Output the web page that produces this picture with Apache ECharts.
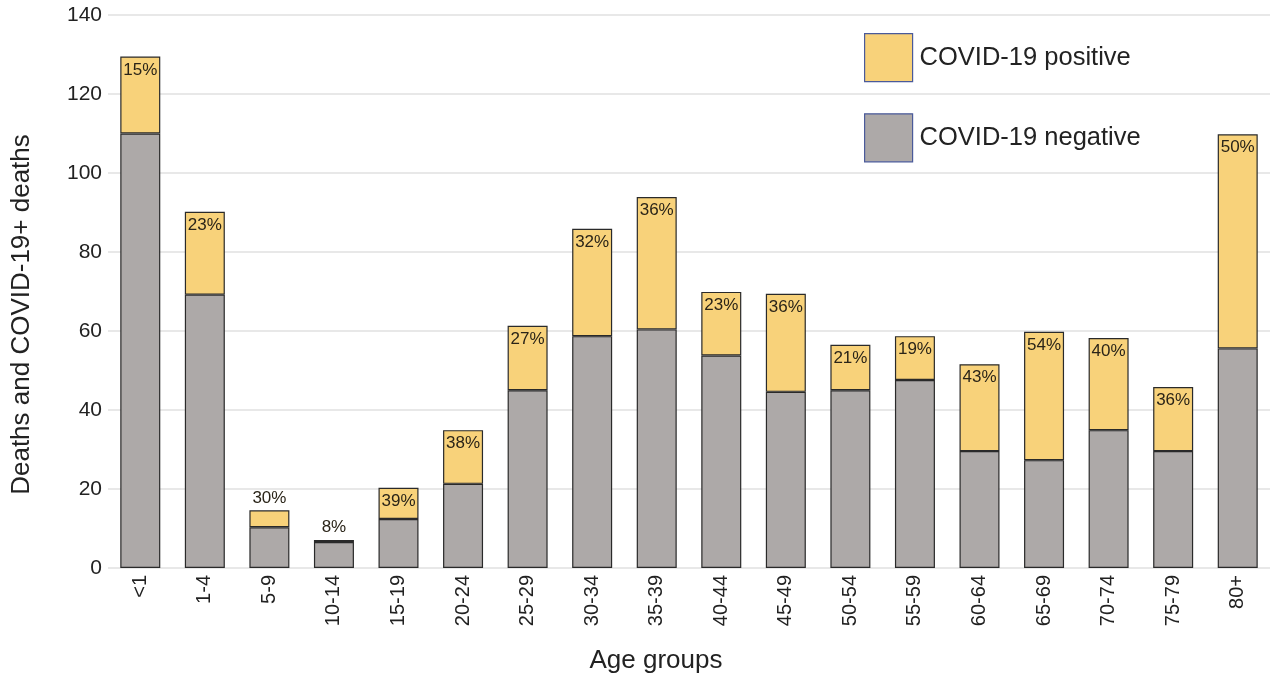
<!DOCTYPE html>
<html><head><meta charset="utf-8">
<script src="https://cdn.jsdelivr.net/npm/echarts@6/dist/echarts.min.js"></script>
<style>html,body{margin:0;padding:0;background:#fff}#c{width:1280px;height:680px}</style>
</head><body><div id="c"></div>
<script>
const categories = ['<1','1-4','5-9','10-14','15-19','20-24','25-29','30-34','35-39','40-44','45-49','50-54','55-59','60-64','65-69','70-74','75-79','80+'];
const negative = [110, 69.2, 10.3, 6.6, 12.4, 21.3, 45, 58.7, 60.4, 53.8, 44.6, 45, 47.6, 29.6, 27.3, 34.9, 29.6, 55.6];
const totals = [129.5, 90.2, 14.6, 7.1, 20.3, 34.9, 61.3, 85.9, 93.9, 69.9, 69.4, 56.5, 58.7, 51.6, 59.8, 58.2, 45.8, 109.8];
const pctLabels = ['15%','23%','30%','8%','39%','38%','27%','32%','36%','23%','36%','21%','19%','43%','54%','40%','36%','50%'];
const positive = totals.map((t, i) => +(t - negative[i]).toFixed(2));

const chart = echarts.init(document.getElementById('c'));
const font = 'Liberation Sans, Arial, sans-serif';
chart.setOption({
  animation: false,
  textStyle: { fontFamily: font },
  grid: { left: 108, right: 10, top: 15, bottom: 112, containLabel: false, outerBoundsMode: 'none' },
  legend: {
    orient: 'vertical', left: 859, top: 28, itemWidth: 48, itemHeight: 48, itemGap: 31,
    icon: 'rect',
    textStyle: { fontSize: 25.5, color: '#222', fontFamily: font, padding: [0,0,0,2] },
    data: [
      { name: 'COVID-19 positive', itemStyle: { color: '#F8D27A', borderColor: '#4a5a9a', borderWidth: 1.2 } },
      { name: 'COVID-19 negative', itemStyle: { color: '#ADA9A8', borderColor: '#4a5a9a', borderWidth: 1.2 } }
    ]
  },
  xAxis: {
    type: 'category', data: categories,
    name: 'Age groups', nameLocation: 'middle', nameGap: 80,
    nameTextStyle: { fontSize: 26, color: '#222', padding: [0, 66, 0, 0] },
    axisLine: { show: false }, axisTick: { show: false },
    axisLabel: { rotate: 90, fontSize: 20, color: '#222', margin: 7 }
  },
  yAxis: {
    type: 'value', min: 0, max: 140, interval: 20,
    name: 'Deaths and COVID-19+ deaths', nameLocation: 'middle', nameGap: 73,
    nameTextStyle: { fontSize: 26, color: '#222', padding: [0, 46, 0, 0] },
    axisLabel: { fontSize: 21, color: '#222', margin: 6 },
    splitLine: { lineStyle: { color: '#e0e0e0', width: 1.5 } }
  },
  series: [
    {
      name: 'COVID-19 negative', type: 'bar', stack: 's', barWidth: 40,
      data: negative,
      itemStyle: { color: '#ADA9A8', borderColor: '#2a2a2a', borderWidth: 1.2 }
    },
    {
      name: 'COVID-19 positive', type: 'bar', stack: 's', barWidth: 40,
      data: positive.map((v, i) => ({
        value: v,
        label: { position: v < 5 ? 'top' : 'insideTop', distance: v < 5 ? 4 : 5 }
      })),
      itemStyle: { color: '#F8D27A', borderColor: '#2a2a2a', borderWidth: 1.2 },
      label: { show: true, fontSize: 17, color: '#2a2418', formatter: p => pctLabels[p.dataIndex] }
    }
  ]
});
</script></body></html>
